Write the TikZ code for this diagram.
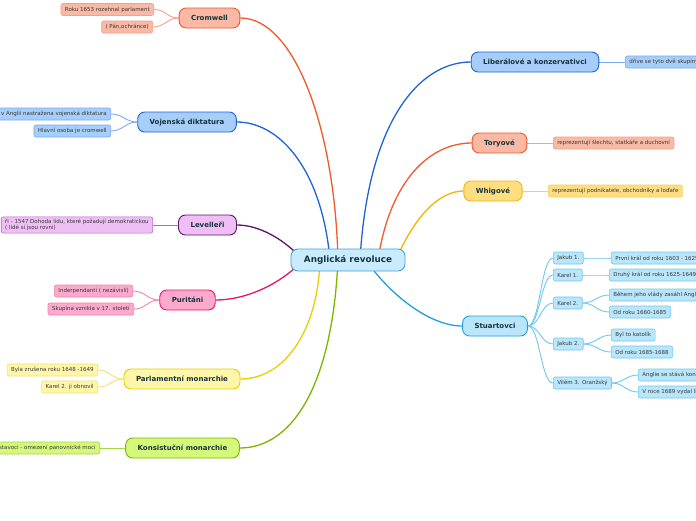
\documentclass[tikz,border=0pt]{standalone}
\usepackage{fontspec}
\setmainfont{DejaVu Sans}
\usetikzlibrary{backgrounds}
\definecolor{rootfill}{RGB}{200,236,251}
\definecolor{rootline}{RGB}{70,160,215}
\definecolor{redfill}{RGB}{249,185,164}
\definecolor{redline}{RGB}{240,90,40}
\definecolor{redlight}{RGB}{246,160,135}
\definecolor{bluefill}{RGB}{166,206,248}
\definecolor{blueline}{RGB}{30,100,215}
\definecolor{bluelight}{RGB}{120,170,240}
\definecolor{purfill}{RGB}{238,190,245}
\definecolor{purline}{RGB}{95,20,105}
\definecolor{purlight}{RGB}{180,110,200}
\definecolor{pinkfill}{RGB}{251,170,205}
\definecolor{pinkline}{RGB}{230,20,110}
\definecolor{pinklight}{RGB}{245,130,180}
\definecolor{yelfill}{RGB}{255,246,170}
\definecolor{yelline}{RGB}{232,208,0}
\definecolor{yellight}{RGB}{245,225,110}
\definecolor{grnfill}{RGB}{214,248,122}
\definecolor{grnline}{RGB}{122,184,0}
\definecolor{grnlight}{RGB}{165,215,70}
\definecolor{orfill}{RGB}{255,222,130}
\definecolor{orline}{RGB}{245,180,0}
\definecolor{orlight}{RGB}{248,205,90}
\definecolor{cyfill}{RGB}{186,230,251}
\definecolor{cyline}{RGB}{30,160,230}
\definecolor{cylight}{RGB}{110,200,240}
\definecolor{ink}{RGB}{22,52,62}
\definecolor{leafink}{RGB}{55,55,55}
\tikzset{
  root/.style={draw=rootline, fill=rootfill, line width=0.9pt, rounded corners=7pt,
    minimum height=22pt, inner xsep=13pt, font=\fontsize{8.8}{10}\selectfont\bfseries, text=ink},
  topic/.style={draw=#1line, fill=#1fill, line width=0.9pt, rounded corners=7pt,
    minimum height=20pt, inner xsep=12pt, font=\fontsize{7}{8}\selectfont\bfseries, text=ink},
  leaf/.style={draw=#1light, fill=#1fill, line width=0.6pt, rounded corners=2pt,
    minimum height=12pt, inner xsep=4pt, inner ysep=1.5pt, font=\fontsize{5.5}{6.6}\selectfont, text=leafink},
  branch/.style={draw=#1line, line width=1.3pt},
  twig/.style={draw=#1light, line width=0.9pt}
}
% leaf connectors, left and right side
\newcommand{\twigL}[3]{\draw[twig=#1] (#2.west) .. controls +(-12,0) and +(12,0) .. (#3.east);}
\newcommand{\twigR}[3]{\draw[twig=#1] (#2.east) .. controls +(12,0) and +(-12,0) .. (#3.west);}
\begin{document}
\begin{tikzpicture}[x=1pt,y=-1pt]
\useasboundingbox (0,0) rectangle (696,520);
% centre and main topics
\node[root] (rev) at (348,260) {Anglická revoluce};
\node[topic=red] (crom) at (209.5,18) {Cromwell};
\node[topic=blue] (voj) at (187,122) {Vojenská diktatura};
\node[topic=pur] (lev) at (207.5,225) {Levelleři};
\node[topic=pink] (pur) at (187.5,300) {Puritáni};
\node[topic=yel] (parl) at (182,379) {Parlamentní monarchie};
\node[topic=grn] (kons) at (182.5,448) {Konsistuční monarchie};
\node[topic=blue] (lib) at (535,62) {Liberálové a konzervativci};
\node[topic=red] (tory) at (499.5,143) {Toryové};
\node[topic=or] (whig) at (493,191) {Whigové};
\node[topic=cy] (stu) at (495,326) {Stuartovci};
% left leaves
\node[leaf=red, anchor=east] (crom1) at (154,9.5) {Roku 1653 rozehnal parlament};
\node[leaf=red, anchor=east] (crom2) at (153,27) {( Pán,ochránce)};
\node[leaf=blue, anchor=east] (voj1) at (111,114) {v Anglii nastražena vojenská diktatura};
\node[leaf=blue, anchor=east] (voj2) at (111,131) {Hlavní osoba je cromwell};
\node[leaf=pur, anchor=east, align=left, inner ysep=2pt] (lev1) at (153,225)
  {ři - 1547 Dohoda lidu, které požadují demokratickou\\( lidé si jsou rovni)};
\node[leaf=pink, anchor=east] (pur1) at (133,291) {Inderpendanti ( nezávislí)};
\node[leaf=pink, anchor=east] (pur2) at (134,309) {Skupina vznikla v 17. století};
\node[leaf=yel, anchor=east] (parl1) at (98,370) {Byla zrušena roku 1648 -1649};
\node[leaf=yel, anchor=east] (parl2) at (98,387) {Karel 2. ji obnovil};
\node[leaf=grn, anchor=east] (kons1) at (100,448) {stavoci - omezení panovnické moci};
% right leaves
\node[leaf=blue, anchor=west] (lib1) at (625,62) {dříve se tyto dvě skupiny};
\node[leaf=red, anchor=west] (tory1) at (553,143) {reprezentují šlechtu, statkáře a duchovní};
\node[leaf=or, anchor=west] (whig1) at (548,191) {reprezentují podnikatele, obchodníky a loďaře};
\node[leaf=cy, anchor=west] (jak1) at (553,258) {Jakub 1.};
\node[leaf=cy, anchor=west] (kar1) at (553,275) {Karel 1.};
\node[leaf=cy, anchor=west] (kar2) at (553,303) {Karel 2.};
\node[leaf=cy, anchor=west] (jak2) at (553,344) {Jakub 2.};
\node[leaf=cy, anchor=west] (vil3) at (553,383) {Vilém 3. Oranžský};
\node[leaf=cy, anchor=west] (jak1a) at (611,258) {První král od roku 1603 - 1625};
\node[leaf=cy, anchor=west] (kar1a) at (609,275) {Druhý král od roku 1625-1649};
\node[leaf=cy, anchor=west] (kar2a) at (609,295) {Během jeho vlády zasáhl Anglii};
\node[leaf=cy, anchor=west] (kar2b) at (609,312) {Od roku 1660-1685};
\node[leaf=cy, anchor=west] (jak2a) at (611,335) {Byl to katolík};
\node[leaf=cy, anchor=west] (jak2b) at (611,352) {Od roku 1685-1688};
\node[leaf=cy, anchor=west] (vil3a) at (638,375) {Anglie se stává konstituční};
\node[leaf=cy, anchor=west] (vil3b) at (638,392) {V roce 1689 vydal listinu};
\begin{scope}[on background layer]
\fill[white] (0,0) rectangle (696,520);
% main branches
\draw[branch=red] ([xshift=-10pt]rev.center) .. controls (335,130) and (295,18) .. (crom.east);
\draw[branch=blue] ([xshift=-18pt]rev.center) .. controls (322,170) and (280,122) .. (voj.east);
\draw[branch=pur] ([xshift=-45pt]rev.center) .. controls (285,240) and (260,225) .. (lev.east);
\draw[branch=pink] ([xshift=-45pt]rev.center) .. controls (280,285) and (245,300) .. (pur.east);
\draw[branch=yel] ([xshift=-28pt]rev.center) .. controls (318,330) and (285,379) .. (parl.east);
\draw[branch=grn] ([xshift=-10pt]rev.center) .. controls (332,390) and (290,448) .. (kons.east);
\draw[branch=blue] ([xshift=12pt]rev.center) .. controls (368,120) and (420,62) .. (lib.west);
\draw[branch=red] ([xshift=30pt]rev.center) .. controls (390,180) and (430,143) .. (tory.west);
\draw[branch=or] ([xshift=48pt]rev.center) .. controls (415,215) and (440,191) .. (whig.west);
\draw[branch=cy] ([xshift=18pt]rev.center) .. controls (390,295) and (430,326) .. (stu.west);
% leaf connectors
\twigL{red}{crom}{crom1} \twigL{red}{crom}{crom2}
\twigL{blue}{voj}{voj1} \twigL{blue}{voj}{voj2}
\twigL{pur}{lev}{lev1}
\twigL{pink}{pur}{pur1} \twigL{pink}{pur}{pur2}
\twigL{yel}{parl}{parl1} \twigL{yel}{parl}{parl2}
\twigL{grn}{kons}{kons1}
\twigR{blue}{lib}{lib1} \twigR{red}{tory}{tory1} \twigR{or}{whig}{whig1}
\twigR{cy}{stu}{jak1} \twigR{cy}{stu}{kar1} \twigR{cy}{stu}{kar2}
\twigR{cy}{stu}{jak2} \twigR{cy}{stu}{vil3}
\twigR{cy}{jak1}{jak1a} \twigR{cy}{kar1}{kar1a}
\twigR{cy}{kar2}{kar2a} \twigR{cy}{kar2}{kar2b}
\twigR{cy}{jak2}{jak2a} \twigR{cy}{jak2}{jak2b}
\twigR{cy}{vil3}{vil3a} \twigR{cy}{vil3}{vil3b}
\end{scope}
\end{tikzpicture}
\end{document}
